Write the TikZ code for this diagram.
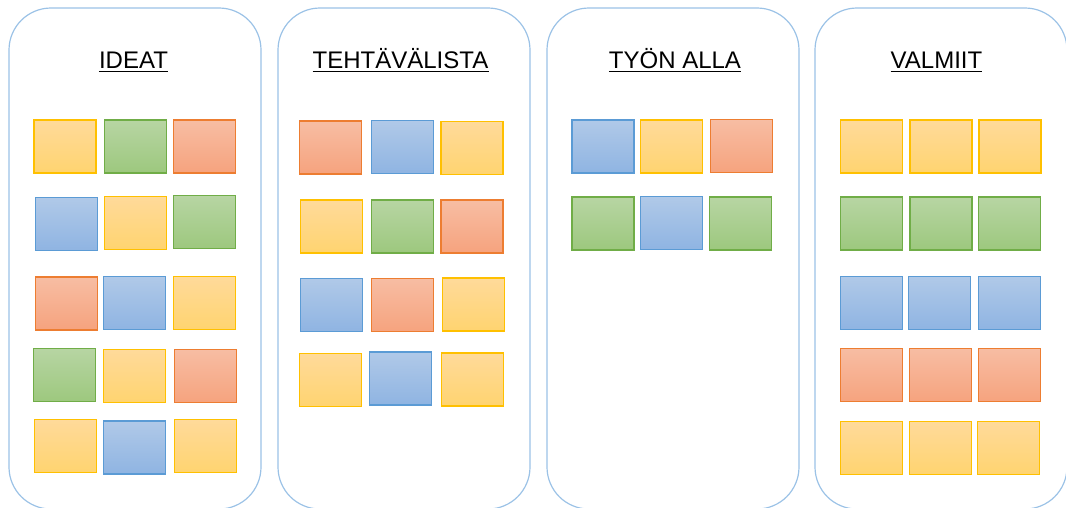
\documentclass[tikz,border=0pt]{standalone}
\usepackage{fontspec}
\setmainfont{Liberation Sans}
\definecolor{colb}{HTML}{9BC2E6}
\definecolor{yT}{HTML}{FFDA9A}\definecolor{yB}{HTML}{FFD470}\definecolor{yD}{HTML}{FFC000}
\definecolor{gT}{HTML}{B7D5A3}\definecolor{gB}{HTML}{9DC87E}\definecolor{gD}{HTML}{70AD47}
\definecolor{oT}{HTML}{F7BDA3}\definecolor{oB}{HTML}{F6A37E}\definecolor{oD}{HTML}{ED7D31}
\definecolor{bT}{HTML}{B0C9E8}\definecolor{bB}{HTML}{8FB4E2}\definecolor{bD}{HTML}{5B9BD5}
\tikzset{
  note/.style={inner sep=0pt, minimum width=62pt, minimum height=53pt, line width=1.2pt},
  ny/.style={note, draw=yD, top color=yT, bottom color=yB},
  ng/.style={note, draw=gD, top color=gT, bottom color=gB},
  no/.style={note, draw=oD, top color=oT, bottom color=oB},
  nb/.style={note, draw=bD, top color=bT, bottom color=bB},
  lane/.style={draw=colb, line width=1.2pt, rounded corners=42pt},
  title/.style={anchor=base, inner sep=0pt, font=\fontsize{24pt}{28pt}\selectfont},
  uline/.style={line width=1.6pt, black}
}
\begin{document}
\begin{tikzpicture}[x=1pt,y=-1pt]
\useasboundingbox (0,0) rectangle (1066,507);
% lanes
\draw[lane] (9,8) rectangle (261,509);
\draw[lane] (278,8) rectangle (530,509);
\draw[lane] (547,8) rectangle (799,509);
\draw[lane] (815,8) rectangle (1067,509);
% titles
\node[title] (t1) at (133.5,68) {IDEAT};
\node[title] (t2) at (400.5,68) {TEHTÄVÄLISTA};
\node[title] (t3) at (675,68) {TYÖN ALLA};
\node[title] (t4) at (936.5,68) {VALMIIT};
\foreach \t in {t1,t2,t3,t4}
  \draw[uline] ([yshift=-3.5pt]\t.base west) -- ([yshift=-3.5pt]\t.base east);
% column 1
\node[ny] (a11) at (65,146.5) {};
\node[ng] (a12) at (135.5,146.5) {};
\node[no] (a13) at (204.5,146.5) {};
\node[nb] (a21) at (66.5,224) {};
\node[ny] (a22) at (135.5,223) {};
\node[ng] (a23) at (204.5,222) {};
\node[no] (a31) at (66.5,303.5) {};
\node[nb] (a32) at (134.5,303) {};
\node[ny] (a33) at (204.5,303) {};
\node[ng] (a41) at (64.2,375) {};
\node[ny] (a42) at (134.8,376) {};
\node[no] (a43) at (205.5,376) {};
\node[ny] (a51) at (65.3,446) {};
\node[nb] (a52) at (134.5,447.5) {};
\node[ny] (a53) at (205.5,446) {};
% column 2
\node[no] (b11) at (330.5,147.5) {};
\node[nb] (b12) at (402.5,147) {};
\node[ny] (b13) at (472,148) {};
\node[ny] (b21) at (331.5,226.5) {};
\node[ng] (b22) at (402.5,226.5) {};
\node[no] (b23) at (472,226.5) {};
\node[nb] (b31) at (331.5,305) {};
\node[no] (b32) at (402.5,305) {};
\node[ny] (b33) at (473.5,304.5) {};
\node[ny] (b41) at (330.5,380) {};
\node[nb] (b42) at (400.5,378.5) {};
\node[ny] (b43) at (472.5,379.5) {};
% column 3
\node[nb] (c11) at (603,146.5) {};
\node[ny] (c12) at (671.5,146.5) {};
\node[no] (c13) at (741.5,146) {};
\node[ng] (c21) at (603,223.5) {};
\node[nb] (c22) at (671.5,223) {};
\node[ng] (c23) at (740.5,223.5) {};
% column 4
\node[ny] (d11) at (871.5,146.5) {};
\node[ny] (d12) at (941,146.5) {};
\node[ny] (d13) at (1010,146.5) {};
\node[ng] (d21) at (871.5,223.5) {};
\node[ng] (d22) at (941,223.5) {};
\node[ng] (d23) at (1009.5,223.5) {};
\node[nb] (d31) at (871.5,303) {};
\node[nb] (d32) at (939.5,303) {};
\node[nb] (d33) at (1009.5,303) {};
\node[no] (d41) at (871.5,375) {};
\node[no] (d42) at (940.5,375) {};
\node[no] (d43) at (1009.5,375) {};
\node[ny] (d51) at (871.5,448) {};
\node[ny] (d52) at (940.5,448) {};
\node[ny] (d53) at (1008.5,448) {};
\end{tikzpicture}
\end{document}
